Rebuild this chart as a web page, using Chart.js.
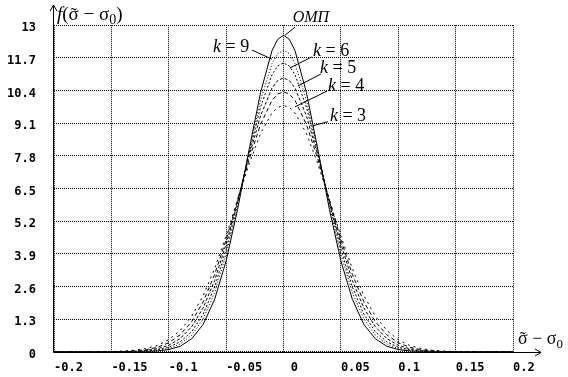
<!DOCTYPE html>
<html>
<head>
<meta charset="utf-8">
<script src="https://cdn.jsdelivr.net/npm/chart.js@4.4.0/dist/chart.umd.min.js"></script>
<style>
  html, body { margin: 0; padding: 0; background: #fff; }
  #wrap { width: 568px; height: 377px; }
</style>
</head>
<body>
<div id="wrap"><canvas id="c" width="568" height="377"></canvas></div>
<script>
'use strict';

/* ── Data ────────────────────────────────────────────────────────────── */

const X = [-0.2, -0.15, -0.14, -0.13, -0.12, -0.11, -0.1, -0.09, -0.08, -0.07, -0.06, -0.05, -0.04, -0.03, -0.02, -0.01, -0.005,
           0, 0.005, 0.01, 0.02, 0.03, 0.04, 0.05, 0.06, 0.07, 0.08, 0.09, 0.1, 0.11, 0.12, 0.13, 0.14, 0.15, 0.2];

const OMP = [0, 0, 0, 0, 0.01, 0.03, 0.09, 0.22, 0.52, 1.09, 2.09, 3.62, 5.67, 8.04, 10.32, 11.99, 12.44,
             12.6, 12.44, 11.99, 10.32, 8.04, 5.67, 3.62, 2.09, 1.09, 0.52, 0.22, 0.09, 0.03, 0.01, 0, 0, 0, 0];
const K9  = [0, 0, 0, 0.01, 0.02, 0.05, 0.13, 0.31, 0.66, 1.31, 2.36, 3.87, 5.82, 7.99, 10.01, 11.47, 11.87,
             12.0, 11.87, 11.47, 10.01, 7.99, 5.82, 3.87, 2.36, 1.31, 0.66, 0.31, 0.13, 0.05, 0.02, 0.01, 0, 0, 0];
const K6  = [0, 0, 0, 0.01, 0.03, 0.08, 0.18, 0.40, 0.80, 1.50, 2.58, 4.07, 5.92, 7.91, 9.74, 11.03, 11.38,
             11.5, 11.38, 11.03, 9.74, 7.91, 5.92, 4.07, 2.58, 1.50, 0.80, 0.40, 0.18, 0.08, 0.03, 0.01, 0, 0, 0];
const K5  = [0, 0, 0.01, 0.02, 0.05, 0.12, 0.26, 0.53, 1.00, 1.75, 2.84, 4.29, 6.00, 7.79, 9.39, 10.50, 10.80,
             10.9, 10.80, 10.50, 9.39, 7.79, 6.00, 4.29, 2.84, 1.75, 1.00, 0.53, 0.26, 0.12, 0.05, 0.02, 0.01, 0, 0];
const K4  = [0, 0.01, 0.01, 0.04, 0.08, 0.18, 0.36, 0.68, 1.20, 1.99, 3.08, 4.46, 6.04, 7.65, 9.05, 10.01, 10.26,
             10.35, 10.26, 10.01, 9.05, 7.65, 6.04, 4.46, 3.08, 1.99, 1.20, 0.68, 0.36, 0.18, 0.08, 0.04, 0.01, 0.01, 0];
const K3  = [0, 0.01, 0.03, 0.06, 0.13, 0.25, 0.48, 0.85, 1.42, 2.24, 3.31, 4.61, 6.05, 7.47, 8.69, 9.51, 9.73,
             9.8, 9.73, 9.51, 8.69, 7.47, 6.05, 4.61, 3.31, 2.24, 1.42, 0.85, 0.48, 0.25, 0.13, 0.06, 0.03, 0.01, 0];

const SERIES_NAMES = ['ОМП', 'k = 9', 'k = 6', 'k = 5', 'k = 4', 'k = 3'];
const SERIES_DATA  = [OMP, K9, K6, K5, K4, K3];

const X_TICKS  = [-0.2, -0.15, -0.1, -0.05, 0, 0.05, 0.1, 0.15, 0.2];
const X_LABELS = ['-0.2', '-0.15', '-0.1', '-0.05', ' 0', '0.05', '0.1', '0.15', '0.2'];
const Y_TICKS  = [0, 1.3, 2.6, 3.9, 5.2, 6.5, 7.8, 9.1, 10.4, 11.7, 13];
const Y_LABELS = ['0', '1.3', '2.6', '3.9', '5.2', '6.5', '7.8', '9.1', '10.4', '11.7', '13'];

/* ── Styles ──────────────────────────────────────────────────────────── */

const DASHES = [[], [1, 2], [2, 2], [3, 2], [4, 3], [2, 4]];
const SERIF = '"Liberation Serif", "DejaVu Serif", serif';
const MONO = '"DejaVu Sans Mono", monospace';

/* curve labels: text pieces, text anchor and pointer line, all in data units */
const NOTES = [
    { parts: [{ t: 'ОМП', it: true }], size: 16, at: [0.008, 13.12], from: [0.010, 12.92], to: [0.0013, 12.6] },
    { parts: [{ t: 'k', it: true }, { t: ' = 9' }], size: 18, at: [-0.0614, 11.93], from: [-0.0275, 12.01], to: [-0.010, 11.65] },
    { parts: [{ t: 'k', it: true }, { t: ' = 6' }], size: 18, at: [0.0257, 11.77], from: [0.0248, 11.74], to: [0.0057, 11.3] },
    { parts: [{ t: 'k', it: true }, { t: ' = 5' }], size: 18, at: [0.0318, 11.1], from: [0.0327, 11.06], to: [0.0126, 10.58] },
    { parts: [{ t: 'k', it: true }, { t: ' = 4' }], size: 18, at: [0.0388, 10.38], from: [0.0379, 10.38], to: [0.010, 9.75] },
    { parts: [{ t: 'k', it: true }, { t: ' = 3' }], size: 18, at: [0.0405, 9.2], from: [0.0388, 9.16], to: [0.0257, 9.0] },
];

/* ── Helpers ─────────────────────────────────────────────────────────── */

function drawRich(ctx, x, y, parts, size) {
    parts.forEach(p => {
        const s = p.sub ? Math.round(size * 0.72) : size;
        ctx.font = `${p.it ? 'italic ' : ''}${s}px ${SERIF}`;
        const dy = p.sub ? Math.round(size * 0.22) : 0;
        ctx.textAlign = 'left';
        ctx.fillText(p.t, x, y + dy);
        const w = ctx.measureText(p.t).width;
        if (p.tilde) {
            ctx.textAlign = 'center';
            ctx.fillText('˜', x + w / 2, y + 1);
        }
        x += w;
    });
    ctx.textAlign = 'left';
}

function line(ctx, x1, y1, x2, y2) {
    ctx.beginPath();
    ctx.moveTo(x1, y1);
    ctx.lineTo(x2, y2);
    ctx.stroke();
}

/* ── Axes, arrows, titles and curve labels ───────────────────────────── */

const decorPlugin = {
    id: 'decor',
    afterDraw(chart) {
        const ctx = chart.ctx;
        const sx = chart.scales.x, sy = chart.scales.y;
        const ox = Math.round(sx.getPixelForValue(-0.2)) - 0.5;
        const oy = Math.round(sy.getPixelForValue(0)) + 0.5;

        ctx.save();
        ctx.strokeStyle = '#000';
        ctx.fillStyle = '#000';
        ctx.lineWidth = 1;
        ctx.setLineDash([]);

        /* y axis with arrow */
        line(ctx, ox, oy, ox, 5);
        line(ctx, ox, 5, ox - 3.5, 11);
        line(ctx, ox, 5, ox + 3.5, 11);

        /* x axis with arrow */
        line(ctx, ox, oy, 541, oy);
        line(ctx, 541, oy, 535, oy - 3.5);
        line(ctx, 541, oy, 535, oy + 3.5);

        ctx.textBaseline = 'alphabetic';
        drawRich(ctx, 57, 20, [{ t: 'f', it: true }, { t: '(' }, { t: 'σ', tilde: true }, { t: ' − σ' }, { t: '0', sub: true }, { t: ')' }], 19);
        drawRich(ctx, 518, 344, [{ t: 'σ', tilde: true }, { t: ' − σ' }, { t: '0', sub: true }], 18);

        NOTES.forEach(n => {
            line(ctx,
                sx.getPixelForValue(n.from[0]), sy.getPixelForValue(n.from[1]),
                sx.getPixelForValue(n.to[0]), sy.getPixelForValue(n.to[1]));
            drawRich(ctx, sx.getPixelForValue(n.at[0]), sy.getPixelForValue(n.at[1]), n.parts, n.size);
        });
        ctx.restore();
    },
};

/* ── Chart ───────────────────────────────────────────────────────────── */

const datasets = SERIES_DATA.map((vals, i) => ({
    label: SERIES_NAMES[i],
    data: X.map((x, j) => ({ x, y: vals[j] })),
    borderColor: '#000',
    borderWidth: 1,
    borderDash: DASHES[i],
    pointRadius: 0,
    tension: 0,
    fill: false,
}));

new Chart(document.getElementById('c').getContext('2d'), {
    type: 'line',
    data: { datasets },
    options: {
        responsive: false,
        devicePixelRatio: 1,
        animation: false,
        layout: { padding: { top: 25, right: 55, left: 0, bottom: 0 } },
        plugins: { legend: { display: false }, tooltip: { enabled: false } },
        scales: {
            x: {
                type: 'linear',
                min: -0.2,
                max: 0.2,
                afterBuildTicks: s => { s.ticks = X_TICKS.map(v => ({ value: v })); },
                afterFit: s => { s.height = 24; },
                grid: { color: '#000', lineWidth: 1, drawTicks: false },
                border: { display: false, dash: [1, 1] },
                ticks: {
                    align: 'start',
                    autoSkip: false,
                    maxRotation: 0,
                    padding: 9,
                    color: '#000',
                    font: { family: MONO, weight: 'bold', size: 12 },
                    callback: (v, i) => X_LABELS[i],
                },
            },
            y: {
                type: 'linear',
                min: 0,
                max: 13,
                afterBuildTicks: s => { s.ticks = Y_TICKS.map(v => ({ value: v })); },
                afterFit: s => { s.width = 54; },
                grid: { color: '#000', lineWidth: 1, drawTicks: false },
                border: { display: false, dash: [1, 1] },
                ticks: {
                    padding: 18,
                    labelOffset: 3,
                    color: '#000',
                    font: { family: MONO, weight: 'bold', size: 12 },
                    callback: (v, i) => Y_LABELS[i],
                },
            },
        },
    },
    plugins: [decorPlugin],
});
</script>
</body>
</html>
